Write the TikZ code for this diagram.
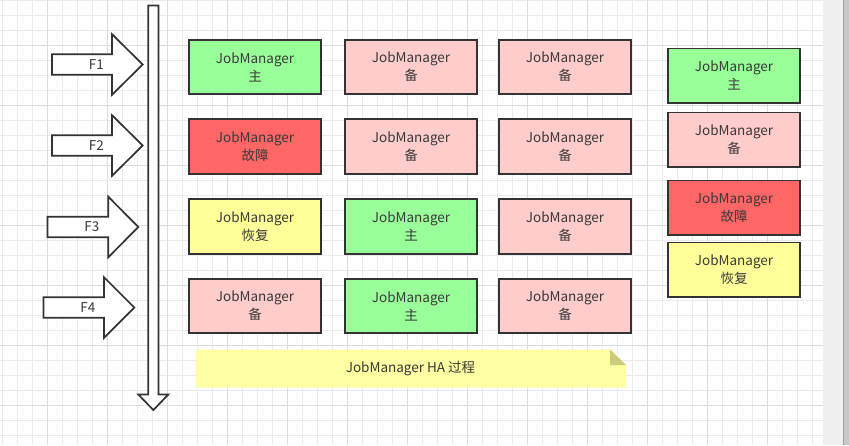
\documentclass[tikz,border=0pt]{standalone}
\usepackage{fontspec}
\setmainfont{Noto Sans CJK SC}
\definecolor{grn}{HTML}{99FF99}
\definecolor{pnk}{HTML}{FFCCCC}
\definecolor{rd}{HTML}{FF6666}
\definecolor{ylw}{HTML}{FFFF99}
\definecolor{edge}{HTML}{333333}
\definecolor{txt}{HTML}{3A3A3A}
\definecolor{gridminor}{HTML}{EBEBEB}
\definecolor{gridmajor}{HTML}{DCDCDC}
\definecolor{notefill}{HTML}{FFFFA3}
\definecolor{notefold}{HTML}{CCCC7E}
\definecolor{chromeA}{HTML}{F0F0F0}
\definecolor{chromeB}{HTML}{C8C8C8}
\definecolor{chromeC}{HTML}{A0A0A0}
\begin{document}
\begin{tikzpicture}[x=1pt,y=-1pt,
  lbl/.style={text=txt, font=\fontsize{13.5}{18}\selectfont, align=center, inner sep=0pt},
  jm/.style={draw=edge, line width=1.7pt, minimum width=132.5pt, minimum height=54.5pt, inner sep=0pt, lbl},
  outline/.style={draw=edge, line width=1.7pt, fill=white, line join=miter}]
\useasboundingbox (0,0) rectangle (849,445);
% grid
\fill[white] (0,0) rectangle (823,445);
\foreach \i in {0,...,54} {\draw[gridminor, line width=0.8pt] (2.3+15*\i,0) -- (2.3+15*\i,445);}
\foreach \i in {0,...,29} {\draw[gridminor, line width=0.8pt] (0,15*\i) -- (823,15*\i);}
\foreach \i in {0,...,12} {\draw[gridmajor, line width=0.8pt] (47.3+60*\i,0) -- (47.3+60*\i,445);}
\foreach \i in {0,...,6} {\draw[gridmajor, line width=0.8pt] (0,45+60*\i) -- (823,45+60*\i);}
% window chrome on right
\fill[chromeA] (823,0) rectangle (843,445);
\fill[chromeB] (843,0) rectangle (849,445);
\draw[chromeC, line width=1pt] (843.5,0) -- (843.5,445);

% vertical timeline arrow
\draw[outline] (148.3,5.5) -- (158.5,5.5) -- (158.5,394.5) -- (168.3,394.5) -- (153.4,410) -- (138.3,394.5) -- (148.3,394.5) -- cycle;

% phase arrows
\foreach \n/\sx/\hb/\tp/\cy in {1/52/112/142.7/64.5, 2/52/112/142.7/145.5, 3/47.5/108.3/138.3/227, 4/43.5/104/134.3/307.5} {
  \draw[outline] (\sx,\cy-10.3) -- (\hb,\cy-10.3) -- (\hb,\cy-30.3) -- (\tp,\cy) -- (\hb,\cy+30.3) -- (\hb,\cy+10.3) -- (\sx,\cy+10.3) -- cycle;
  \node[lbl] (f\n) at ({(\sx+\tp)/2-1},\cy) {F\n};
}

% JobManager boxes, rows F1..F4
\node[jm, fill=grn] (a1) at (255,67) {JobManager\\主};
\node[jm, fill=pnk] (b1) at (411,67) {JobManager\\备};
\node[jm, fill=pnk] (c1) at (565,67) {JobManager\\备};

\node[jm, fill=rd] (a2) at (255,146.5) {JobManager\\故障};
\node[jm, fill=pnk] (b2) at (411,146.5) {JobManager\\备};
\node[jm, fill=pnk] (c2) at (565,146.5) {JobManager\\备};

\node[jm, fill=ylw] (a3) at (255,226.5) {JobManager\\恢复};
\node[jm, fill=grn] (b3) at (411,226.5) {JobManager\\主};
\node[jm, fill=pnk] (c3) at (565,226.5) {JobManager\\备};

\node[jm, fill=pnk] (a4) at (255,306) {JobManager\\备};
\node[jm, fill=grn] (b4) at (411,306) {JobManager\\主};
\node[jm, fill=pnk] (c4) at (565,306) {JobManager\\备};

% legend column
\node[jm, fill=grn] (l1) at (734,75.8) {JobManager\\主};
\node[jm, fill=pnk] (l2) at (734,139.8) {JobManager\\备};
\node[jm, fill=rd]  (l3) at (734,207.8) {JobManager\\故障};
\node[jm, fill=ylw] (l4) at (734,269.8) {JobManager\\恢复};

% note
\fill[notefill] (195.5,349.5) -- (610,349.5) -- (626,365) -- (626,387.5) -- (195.5,387.5) -- cycle;
\fill[notefold] (610,349.5) -- (626,365) -- (610,365) -- cycle;
\node[lbl] (note) at (410.5,369) {JobManager HA 过程};
\end{tikzpicture}
\end{document}
